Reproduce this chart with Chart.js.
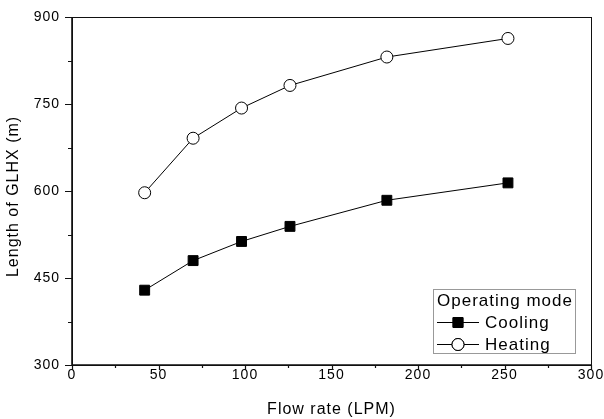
<!DOCTYPE html>
<html>
<head>
<meta charset="utf-8">
<script src="https://cdn.jsdelivr.net/npm/chart.js@4/dist/chart.umd.min.js"></script>
<style>
  html, body { margin: 0; padding: 0; background: #fff; }
  #wrap { width: 604px; height: 419px; }
</style>
</head>
<body>
<div id="wrap"><canvas id="glhx" width="604" height="419"></canvas></div>
<script>
// flow rate (LPM) vs GLHX length (m)
const flowRates = [42, 70, 98, 126, 182, 252];
const coolingLen = [429, 480, 513, 539, 584, 614];
const heatingLen = [597, 691, 743, 782, 831, 863];
const seriesNames = ["Cooling", "Heating"];
const legendTitle = "Operating mode";
const xTitle = "Flow rate (LPM)";
const yTitle = "Length of GLHX (m)";

const FONT = "'Liberation Sans', Arial, sans-serif";
Chart.defaults.font.family = FONT;
Chart.defaults.color = "#000";

const toPts = (ys) => flowRates.map((x, i) => ({ x, y: ys[i] }));

// spacing between letters, like the exported figure
const spacing = {
  id: "spacing",
  beforeUpdate(chart) { chart.ctx.letterSpacing = "1px"; },
  beforeDraw(chart) { chart.ctx.letterSpacing = "1px"; },
};

// box round the plot + outward ticks
const frame = {
  id: "frame",
  afterDatasetsDraw(chart) {
    const { ctx, chartArea: a, scales } = chart;
    ctx.save();
    ctx.strokeStyle = "#111";
    ctx.lineWidth = 1;
    ctx.strokeRect(a.left + 0.5, a.top + 0.5, a.right - a.left, a.bottom - a.top);
    ctx.lineWidth = 1.6;
    ctx.beginPath();
    ctx.moveTo(a.left, a.top); ctx.lineTo(a.left, a.bottom); ctx.lineTo(a.right, a.bottom);
    ctx.stroke();
    ctx.lineWidth = 1.2;
    ctx.beginPath();
    for (let v = 0; v <= 300; v += 25) {
      const px = Math.round(scales.x.getPixelForValue(v)) + 0.5;
      ctx.moveTo(px, a.bottom);
      ctx.lineTo(px, a.bottom + (v % 50 === 0 ? 5 : 3));
    }
    for (let v = 300; v <= 900; v += 75) {
      const py = Math.round(scales.y.getPixelForValue(v)) + 0.5;
      ctx.moveTo(a.left, py);
      ctx.lineTo(a.left - (v % 150 === 0 ? 7 : 4), py);
    }
    ctx.stroke();
    ctx.restore();
  },
};

// legend box inside the plot, bottom right
const boxLegend = {
  id: "boxLegend",
  afterDraw(chart) {
    const { ctx } = chart;
    const bx = 433.5, by = 289.5, bw = 142, bh = 64;
    ctx.save();
    ctx.fillStyle = "#fff";
    ctx.fillRect(bx, by, bw, bh);
    ctx.strokeStyle = "#999";
    ctx.lineWidth = 1;
    ctx.strokeRect(bx, by, bw, bh);
    ctx.fillStyle = "#000";
    ctx.font = "17px " + FONT;
    ctx.textBaseline = "middle";
    ctx.textAlign = "left";
    ctx.fillText(legendTitle, 437, 301);
    const rows = [322, 344];
    chart.data.datasets.forEach((ds, i) => {
      const y = rows[i];
      ctx.strokeStyle = "#000";
      ctx.lineWidth = 1;
      ctx.beginPath();
      ctx.moveTo(437, y + 0.5); ctx.lineTo(479, y + 0.5);
      ctx.stroke();
      Chart.helpers.drawPoint(ctx, {
        pointStyle: ds.pointStyle, radius: ds.pointRadius, borderWidth: 1, rotation: 0,
      }, 458, y + 0.5);
      ctx.fillStyle = ds.pointBackgroundColor;
      ctx.strokeStyle = "#000";
      ctx.fill();
      ctx.stroke();
      ctx.fillStyle = "#000";
      ctx.fillText(ds.label, 485, y + 1);
    });
    ctx.restore();
  },
};

new Chart(document.getElementById("glhx"), {
  type: "scatter",
  data: {
    datasets: [
      {
        label: seriesNames[0],
        data: toPts(coolingLen),
        showLine: true,
        borderColor: "#000",
        borderWidth: 1,
        pointStyle: "rect",
        pointRadius: 7,
        pointHoverRadius: 7,
        pointBackgroundColor: "#000",
        pointBorderColor: "#000",
        pointBorderWidth: 1,
      },
      {
        label: seriesNames[1],
        data: toPts(heatingLen),
        showLine: true,
        borderColor: "#000",
        borderWidth: 1,
        pointStyle: "circle",
        pointRadius: 6,
        pointHoverRadius: 6,
        pointBackgroundColor: "#fff",
        pointBorderColor: "#000",
        pointBorderWidth: 1,
      },
    ],
  },
  options: {
    responsive: false,
    animation: false,
    events: [],
    layout: { padding: { top: 17, right: 13, bottom: 0, left: 0 } },
    plugins: { legend: { display: false }, tooltip: { enabled: false } },
    scales: {
      x: {
        type: "linear",
        min: 0,
        max: 300,
        afterFit: (s) => { s.height = 54; s.paddingLeft = 0; s.paddingRight = 0; },
        ticks: { stepSize: 50, padding: 2, font: { size: 14 }, maxRotation: 0 },
        grid: { display: false, drawTicks: false },
        border: { display: false },
        title: {
          display: true,
          text: xTitle,
          font: { size: 16 },
          padding: { top: 0, bottom: 0 },
        },
      },
      y: {
        type: "linear",
        min: 300,
        max: 900,
        afterFit: (s) => { s.width = 72; s.paddingTop = 0; s.paddingBottom = 0; },
        ticks: { stepSize: 150, padding: 12, font: { size: 14 } },
        grid: { display: false, drawTicks: false },
        border: { display: false },
        title: {
          display: true,
          text: yTitle + "  ",
          font: { size: 16 },
          padding: { top: 4, bottom: 0 },
        },
      },
    },
  },
  plugins: [spacing, frame, boxLegend],
});
</script>
</body>
</html>
